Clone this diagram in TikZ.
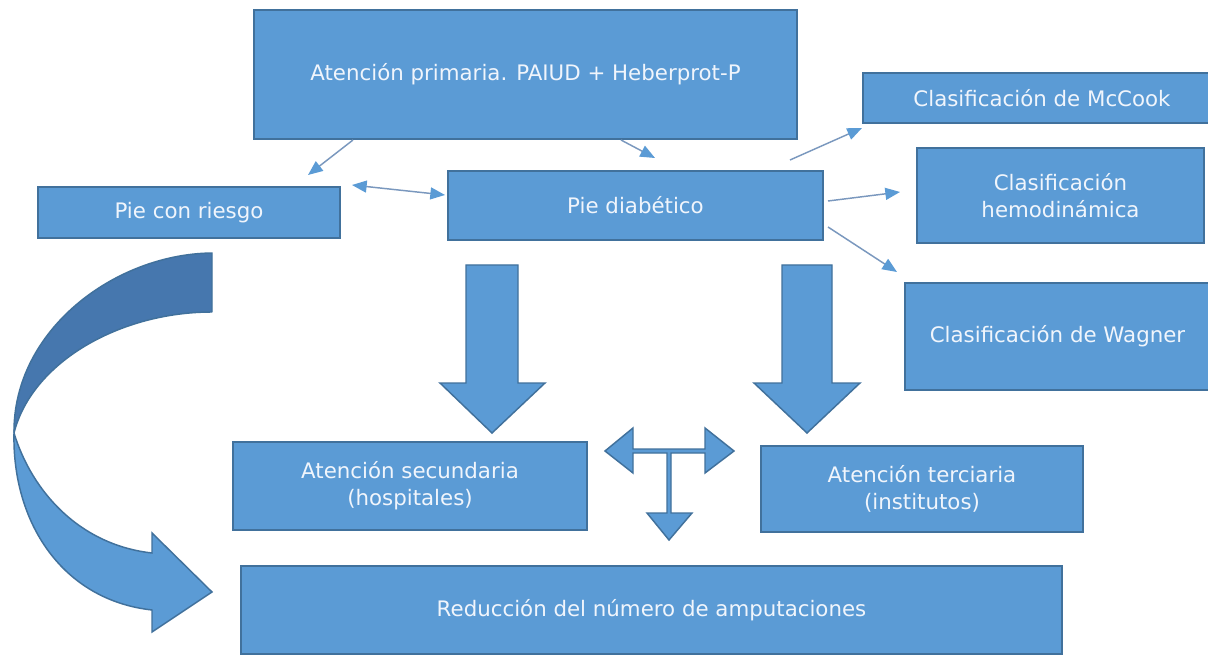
\documentclass[tikz,border=0pt]{standalone}
\usepackage{fontspec}
\setmainfont{DejaVu Sans}
\usetikzlibrary{arrows.meta}
\definecolor{boxfill}{HTML}{5B9BD5}
\definecolor{boxline}{HTML}{41719C}
\definecolor{darkfill}{HTML}{4677AE}
\definecolor{txt}{HTML}{F0F5FC}
\definecolor{thinline}{HTML}{7A98BE}
\begin{document}
\begin{tikzpicture}[x=0.75pt,y=-0.75pt,
  box/.style={draw=boxline,fill=boxfill,line width=1.1pt,text=txt,
    font=\fontsize{16}{20}\selectfont,align=center,inner sep=0pt,anchor=center},
  wh/.style 2 args={minimum width=#1*0.75pt,minimum height=#2*0.75pt},
  conn/.style={draw=thinline,line width=1.1pt,-{Triangle[length=11pt,width=9pt,color=boxfill]}},
  dconn/.style={draw=thinline,line width=1.1pt,{Triangle[length=11pt,width=9pt,color=boxfill]}-{Triangle[length=11pt,width=9pt,color=boxfill]}},
  blockarrow/.style={draw=boxline,fill=boxfill,line width=1.1pt,line join=miter}
]
\useasboundingbox (0,0) rectangle (1208,656);
\fill[white] (0,0) rectangle (1208,656);
\clip (0,0) rectangle (1208,656);

% boxes
\node[box,wh={543}{129}] (A) at (525.5,74.5) {Atención primaria. PAIUD + Heberprot-P};
\node[box,wh={302}{51}] (R) at (189,212.5) {Pie con riesgo};
\node[box,wh={375}{69}] (D) at (635.5,205.5) {Pie diabético};
\node[box,wh={358}{50}] (M) at (1042,98) {Clasificación de McCook};
\node[box,wh={287}{95}] (H) at (1060.5,195.5) {Clasificación\\hemodinámica};
\node[box,wh={305}{107}] (W) at (1057.5,336.5) {Clasificación de Wagner};
\node[box,wh={354}{88}] (S) at (410,486) {Atención secundaria\\(hospitales)};
\node[box,wh={322}{86}] (T) at (922,489) {Atención terciaria\\(institutos)};
\node[box,wh={821}{88}] (Red) at (651.5,610) {Reducción del número de amputaciones};

% thin connectors
\coordinate (a1s) at (353,140); \coordinate (a1e) at (308,175);
\coordinate (a2s) at (352,185); \coordinate (a2e) at (445,195);
\coordinate (a3s) at (621,140); \coordinate (a3e) at (655,158);
\coordinate (a4s) at (790,160); \coordinate (a4e) at (862,128);
\coordinate (a5s) at (828,201); \coordinate (a5e) at (900,192);
\coordinate (a6s) at (828,227); \coordinate (a6e) at (897,272);
\draw[conn] (a1s) -- (a1e);
\draw[dconn] (a2s) -- (a2e);
\draw[conn] (a3s) -- (a3e);
\draw[conn] (a4s) -- (a4e);
\draw[conn] (a5s) -- (a5e);
\draw[conn] (a6s) -- (a6e);

% block down arrows
\draw[blockarrow] (466,265) -- (518,265) -- (518,383) -- (545,383) -- (492,433)
  -- (440,383) -- (466,383) -- cycle;
\draw[blockarrow] (782,265) -- (832,265) -- (832,383) -- (860,383) -- (807,433)
  -- (754,383) -- (782,383) -- cycle;

% T arrow
\draw[blockarrow] (605,451) -- (633,428) -- (633,449) -- (705,449) -- (705,428)
  -- (734,451) -- (705,473) -- (705,453) -- (671,453) -- (671,513) -- (692,513)
  -- (669,540) -- (647,513) -- (667,513) -- (667,453) -- (633,453) -- (633,473) -- cycle;

% curved arrow
\draw[draw=boxline,fill=darkfill,line width=1.1pt,line join=round]
  (212,253) .. controls (115,254) and (13,330) .. (14,433)
  .. controls (32,362) and (120,312) .. (212,312) -- cycle;
\draw[draw=boxline,fill=boxfill,line width=1.1pt,line join=miter]
  (14,433) .. controls (12,522) and (62,600) .. (152,610)
  -- (152,632) -- (212,592) -- (152,533) -- (152,553)
  .. controls (80,545) and (32,492) .. (14,433) -- cycle;
\end{tikzpicture}
\end{document}
